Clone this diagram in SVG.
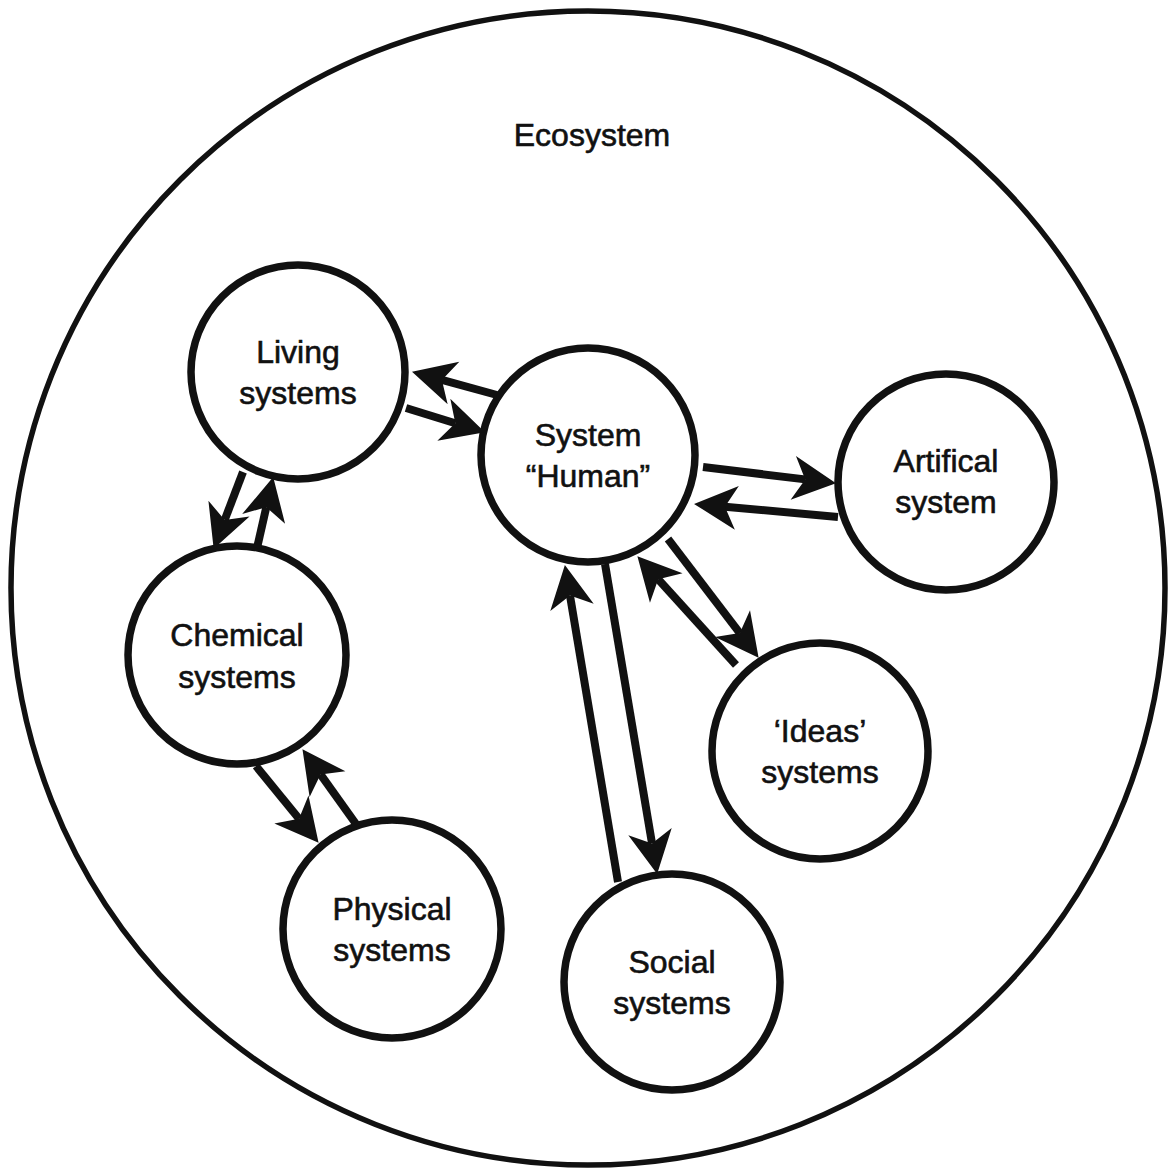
<svg xmlns="http://www.w3.org/2000/svg" width="1172" height="1169" viewBox="0 0 1172 1169">
  <style>
    .bound { fill: none; stroke: #111; stroke-width: 5.5; }
    .node circle { fill: #fff; stroke: #111; stroke-width: 7.5; }
    .label { font-family: "Liberation Sans", Arial, sans-serif; font-size: 32px; fill: #111; stroke: #111; stroke-width: 0.6; text-anchor: middle; }
    .link { stroke: #111; stroke-width: 8; fill: none; marker-end: url(#head); }
  </style>
  <defs>
    <marker id="head" markerUnits="userSpaceOnUse" markerWidth="60" markerHeight="60" refX="12" refY="0" orient="auto" overflow="visible">
      <path d="M0,-22 L43,0 L0,22 L12,0 Z" fill="#111"/>
    </marker>
  </defs>
  <rect width="1172" height="1169" fill="#fff"/>

  <!-- outer ecosystem boundary -->
  <g id="ecosystem">
    <circle class="bound" cx="588" cy="588" r="577"/>
    <text class="label" x="592" y="146">Ecosystem</text>
  </g>

  <!-- systems -->
  <g id="living" class="node">
    <circle cx="298" cy="372" r="107"/>
    <text class="label" x="298" y="363">Living</text>
    <text class="label" x="298" y="404">systems</text>
  </g>
  <g id="human" class="node">
    <circle cx="588" cy="455" r="107"/>
    <text class="label" x="588" y="446">System</text>
    <text class="label" x="588" y="487">“Human”</text>
  </g>
  <g id="artificial" class="node">
    <circle cx="946" cy="482" r="108"/>
    <text class="label" x="946" y="472">Artifical</text>
    <text class="label" x="946" y="513">system</text>
  </g>
  <g id="chemical" class="node">
    <circle cx="237" cy="655" r="109"/>
    <text class="label" x="237" y="646">Chemical</text>
    <text class="label" x="237" y="688">systems</text>
  </g>
  <g id="ideas" class="node">
    <circle cx="820" cy="751" r="108"/>
    <text class="label" x="820" y="742">‘Ideas’</text>
    <text class="label" x="820" y="783">systems</text>
  </g>
  <g id="physical" class="node">
    <circle cx="392" cy="929" r="109"/>
    <text class="label" x="392" y="920">Physical</text>
    <text class="label" x="392" y="961">systems</text>
  </g>
  <g id="social" class="node">
    <circle cx="672" cy="982" r="108"/>
    <text class="label" x="672" y="973">Social</text>
    <text class="label" x="672" y="1014">systems</text>
  </g>

  <!-- exchanges between systems -->
  <g id="connectors">
    <line class="link" x1="497" y1="395" x2="441.9" y2="379.9"/>
    <line class="link" x1="406" y1="408" x2="455.3" y2="423.2"/>
    <line class="link" x1="703" y1="467" x2="805.2" y2="479.4"/>
    <line class="link" x1="838" y1="517" x2="724.9" y2="506.7"/>
    <line class="link" x1="243" y1="472" x2="224.7" y2="519.9"/>
    <line class="link" x1="257" y1="548" x2="266.3" y2="507.2"/>
    <line class="link" x1="256" y1="766" x2="299.0" y2="818.8"/>
    <line class="link" x1="356" y1="824" x2="320.5" y2="774.4"/>
    <line class="link" x1="618" y1="882" x2="570.0" y2="595.6"/>
    <line class="link" x1="605" y1="564" x2="652.0" y2="843.4"/>
    <line class="link" x1="668" y1="539" x2="739.8" y2="633.1"/>
    <line class="link" x1="736" y1="665" x2="658.2" y2="579.2"/>
  </g>
</svg>
